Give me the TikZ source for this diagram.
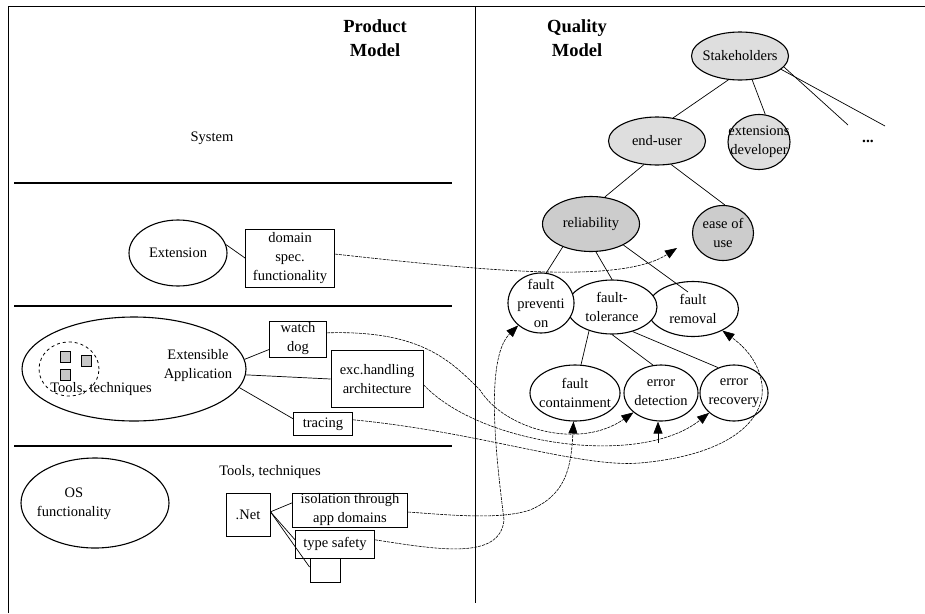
\documentclass[tikz,border=0pt]{standalone}
\usepackage{fontspec}
\setmainfont{Liberation Serif}
\usetikzlibrary{shapes.geometric,arrows.meta,calc}
\definecolor{stakegray}{gray}{0.87}
\definecolor{qualgray}{gray}{0.80}
\definecolor{toolgray}{gray}{0.78}

\begin{document}
\begin{tikzpicture}[x=1pt,y=-1pt,
  txt/.style={font=\fontsize{14.5}{19}\selectfont, align=center, inner sep=0pt},
  head/.style={font=\fontsize{18.5}{24}\selectfont\bfseries, align=center, inner sep=0pt},
  oval/.style={ellipse, draw, line width=1.1pt, inner sep=0pt, fill=white},
  stake/.style={oval, fill=stakegray},
  qual/.style={oval, fill=qualgray},
  box/.style={rectangle, draw, line width=1pt, inner sep=0.5pt, fill=white,
              font=\fontsize{14.5}{19}\selectfont, align=center},
  tool/.style={rectangle, draw, line width=0.8pt, fill=toolgray, inner sep=0pt,
               minimum width=10pt, minimum height=11pt},
  link/.style={line width=0.7pt},
  tipshape/.style={-{Triangle[length=12pt,width=9pt]}},
  flow/.style={line width=0.6pt, dash pattern=on 3pt off 1pt, tipshape},
  tap/.style={line width=0.7pt, tipshape},
  layer/.style={line width=1.4pt},
]
\useasboundingbox (0,0) rectangle (925,613);

% frame and layer separators
\draw[line width=0.9pt] (8,613) -- (8,6) -- (925,6);
\draw[line width=0.9pt] (475,6) -- (475,603);
\draw[layer] (14,183) -- (452,183);
\draw[layer] (14,306) -- (452,306);
\draw[layer] (14,446) -- (452,446);

% headings
\node[head] (phead) at (375,38) {Product\\Model};
\node[head] (qhead) at (577,38) {Quality\\Model};

% ---------- product model ----------
\node[txt] (sys) at (212,138) {System};

\node[oval, minimum width=98pt, minimum height=66pt,
      label={[txt]center:Extension}] (ext) at (178,253) {};
\node[box, minimum width=89pt, minimum height=58pt] (dom) at (290,258)
  {domain\\spec.\\functionality};
\draw[link] (ext.10) -- (dom.west);

\node[oval, minimum width=224pt, minimum height=104pt] (app) at (134,369) {};
\node[oval, dashed, line width=0.8pt, fill=none, minimum width=60pt, minimum height=54pt] (toolset) at (69,369) {};
\node[tool] (sq1) at (65,357) {};
\node[tool] (sq2) at (86,361) {};
\node[tool] (sq3) at (65,375) {};
\node[txt] (apptools) at (101,389) {Tools, techniques};
\node[txt] (apptext) at (198,366) {Extensible\\Application};

\node[box, minimum width=57pt, minimum height=36pt] (wd) at (298,339) {watch\\dog};
\node[box, minimum width=92pt, minimum height=57pt] (exc) at (377,379) {exc.handling\\architecture};
\node[box, minimum width=59pt, minimum height=23pt] (tr) at (323,424) {tracing};
\draw[link] (app.5) -- (wd.200);
\draw[link] (app.357) -- (exc.west);
\draw[link] (app.350) -- (tr.170);

\node[oval, minimum width=148pt, minimum height=90pt] (os) at (95,503) {};
\node[txt] (ostext) at (74,504) {OS\\functionality};
\node[txt] (ostools) at (270,472) {Tools, techniques};
\node[box, minimum width=44pt, minimum height=43pt] (net) at (248,515) {.Net};
\node[box, minimum width=115pt, minimum height=34pt] (iso) at (350,510) {isolation through\\app domains};
\node[box, minimum width=30pt, minimum height=24pt] (blank) at (325,570) {};
\node[box, minimum width=79pt, minimum height=28pt] (ts) at (335,544) {type safety};
\draw[link] (net.8) -- (iso.173);
\draw[link] (net.8) -- (ts.174);
\draw[link] (net.8) -- (blank.169);

% ---------- quality model ----------
\node[stake, minimum width=97pt, minimum height=48pt,
      label={[txt]center:Stakeholders}] (stk) at (740,56) {};
\node[stake, minimum width=97pt, minimum height=48pt,
      label={[txt]center:end-user}] (eu) at (657,141) {};
\node[stake, minimum width=62pt, minimum height=55pt,
      label={[txt]center:{extensions\\developer}}] (xd) at (759,142) {};
\node[txt, font=\fontsize{15.5}{19}\selectfont\bfseries] (dots) at (868,141) {...};
\coordinate (dotsA) at (848,125);
\coordinate (dotsB) at (885,126);

\node[qual, minimum width=97pt, minimum height=55pt,
      label={[txt]center:reliability}] (rel) at (591,224) {};
\node[qual, minimum width=61pt, minimum height=55pt,
      label={[txt]center:{ease of\\use}}] (ease) at (723,233) {};

\node[oval, minimum width=91pt, minimum height=55pt,
      label={[txt]center:{fault\\removal}}] (frem) at (693,309) {};
\node[oval, minimum width=90pt, minimum height=54pt,
      label={[txt]center:{fault-\\tolerance}}] (ftol) at (612,307) {};
\node[oval, minimum width=66pt, minimum height=60pt,
      label={[txt]center:{fault\\preventi\\on}}] (fprev) at (541,303) {};

\node[oval, minimum width=90pt, minimum height=56pt,
      label={[txt]center:{fault\\containment}}] (fcon) at (575,393) {};
\node[oval, minimum width=74pt, minimum height=56pt,
      label={[txt]center:{error\\detection}}] (ed) at (661,393) {};
\node[oval, minimum width=68pt, minimum height=56pt,
      label={[txt]center:{error\\recovery}}] (er) at (734,393) {};

% hierarchy links
\draw[link] (stk.244) -- (eu.55);
\draw[link] (stk.297) -- (xd.77);
\draw[link] (stk.346) -- (dotsA);
\draw[link] (stk.342) -- (dotsB);
\draw[link] (eu.241) -- (rel.63);
\draw[link] (eu.301) -- (ease.86);
\draw[link] (rel.219) -- (fprev.80);
\draw[link] (rel.280) -- (ftol.90);
\draw[link] (rel.327) -- ($(frem.center)+(-5,-17)$);
\draw[link] (ftol.226) -- (fcon.78);
\draw[link] (ftol.270) -- (ed.106);
\draw[link] (ftol.310) -- (er.122);

% mappings from product elements to quality attributes
\coordinate (easein) at ($(ease.center)+(-46,15)$);
\draw[flow] (dom.5) .. controls (480,270) and (620,285) .. (easein);
\draw[flow] (wd.12) .. controls (420,330) and (450,360) .. (480,390)
                    .. controls (505,430) and (580,450) .. (ed);
\draw[flow] (exc.353) .. controls (480,445) and (640,468) .. (er);
\coordinate (edtap) at (658,443);
\draw[tap] (edtap) -- (edtap |- ed.south);
\draw[flow] (tr.8) .. controls (480,432) and (580,468) .. (640,463)
                   .. controls (730,455) and (766,420) .. (762,385)
                   .. controls (759,360) and (742,345) .. (frem);
\draw[flow] (iso.358) .. controls (450,515) and (500,520) .. (530,510)
                      .. controls (565,495) and (571,470) .. (fcon);
\draw[flow] (ts.6) .. controls (440,550) and (500,560) .. (504,520)
                   .. controls (498,470) and (483,360) .. (fprev);
\end{tikzpicture}
\end{document}
